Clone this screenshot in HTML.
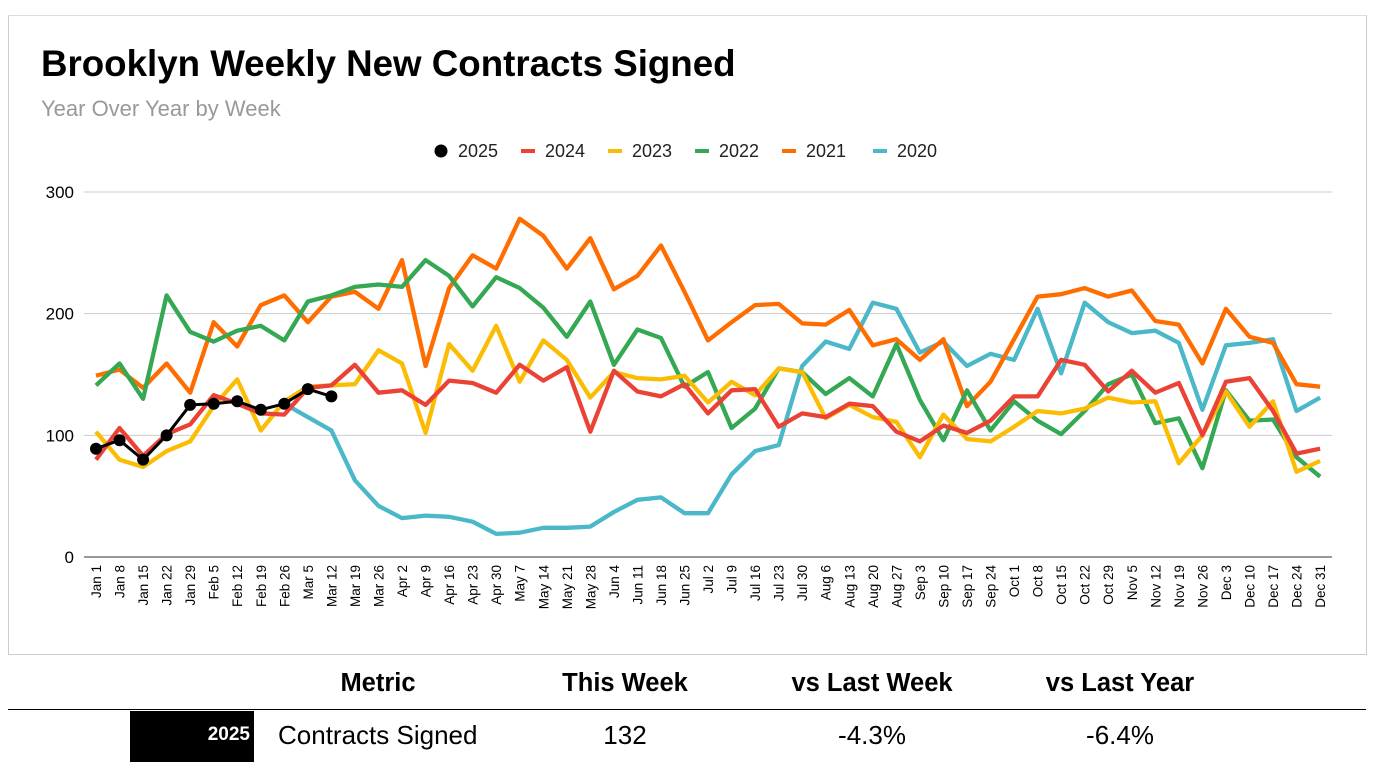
<!DOCTYPE html>
<html><head><meta charset="utf-8"><style>
body{margin:0;width:1376px;height:770px;background:#fff;font-family:"Liberation Sans",Arial,sans-serif;overflow:hidden;position:relative}
.card{position:absolute;left:8px;top:15px;width:1357px;height:638px;border:1px solid #ccc;border-top:1px solid #ddd}
.t{position:absolute;white-space:nowrap}
</style></head><body>
<div class="card"></div>
<div class="t" style="left:41px;top:43px;font-size:36.7px;font-weight:bold;color:#000">Brooklyn Weekly New Contracts Signed</div>
<div class="t" style="left:41px;top:96px;font-size:22px;color:#999">Year Over Year by Week</div>
<svg id="s" width="1376" height="660" style="position:absolute;left:0;top:0" font-family="Liberation Sans, Arial, sans-serif"></svg>
<div class="t" style="left:0;top:669px;width:1376px;font-size:25.5px;font-weight:bold">
<span class="t" style="left:378px;transform:translateX(-50%)">Metric</span>
<span class="t" style="left:625px;transform:translateX(-50%)">This Week</span>
<span class="t" style="left:872px;transform:translateX(-50%)">vs Last Week</span>
<span class="t" style="left:1120px;transform:translateX(-50%)">vs Last Year</span>
</div>
<div style="position:absolute;left:8px;top:709px;width:1358px;height:1px;background:#000"></div>
<div style="position:absolute;left:130px;top:711px;width:124px;height:51px;background:#000"></div>
<div class="t" style="left:130px;top:724px;width:120px;text-align:right;color:#fff;font-weight:bold;font-size:19px">2025</div>
<div class="t" style="left:278px;top:720px;font-size:26px">Contracts Signed</div>
<div class="t" style="left:625px;top:720px;font-size:26px;transform:translateX(-50%)">132</div>
<div class="t" style="left:872px;top:720px;font-size:26px;transform:translateX(-50%)">-4.3%</div>
<div class="t" style="left:1120px;top:720px;font-size:26px;transform:translateX(-50%)">-6.4%</div>
<script>
var s=document.getElementById('s'),h='';
function X(i){return 96+i*23.54}function Y(v){return 557-v*1.2167}
[0,100,200,300].forEach(function(v){var y=Y(v);h+='<line x1="84" x2="1332" y1="'+y+'" y2="'+y+'" stroke="'+(v?'#ccc':'#333')+'" stroke-width="1"/>';h+='<text x="74" y="'+(y+6)+'" text-anchor="end" font-size="17" fill="#000">'+v+'</text>';});
var m=['Jan','Feb','Mar','Apr','May','Jun','Jul','Aug','Sep','Oct','Nov','Dec'],md=[31,28,31,30,31,30,31,31,30,31,30,31],mo=0,d=1;
for(var i=0;i<53;i++){var lab=m[mo]+' '+d;h+='<text transform="translate('+(X(i)+5)+',565) rotate(-90)" text-anchor="end" font-size="13.5" fill="#000">'+lab+'</text>';d+=7;if(d>md[mo]){d-=md[mo];mo++;}}
var S={
'#4ab8c8':[null,null,null,null,null,null,null,null,126,115,104,63,42,32,34,33,29,19,20,24,24,25,37,47,49,36,36,68,87,92,157,177,171,209,204,168,177,157,167,162,204,151,209,193,184,186,176,121,174,176,179,120,131],
'#ff6d01':[149,154,139,159,135,193,173,207,215,193,214,218,204,244,157,221,248,237,278,264,237,262,220,231,256,218,178,193,207,208,192,191,203,174,179,162,179,124,144,179,214,216,221,214,219,194,191,159,204,181,176,142,140],
'#34a853':[141,159,130,215,185,177,186,190,178,210,215,222,224,222,244,231,206,230,221,205,181,210,158,187,180,140,152,106,122,155,152,134,147,132,175,129,96,137,104,128,112,101,120,142,150,110,114,73,137,112,113,82,66],
'#fbbc04':[103,80,74,87,95,124,146,104,128,140,141,142,170,159,102,175,153,190,144,178,162,131,152,147,146,149,127,144,133,155,152,114,125,115,111,82,117,97,95,107,120,118,122,131,127,128,77,100,136,107,128,70,79],
'#ea4335':[80,106,83,101,109,133,126,118,117,139,141,158,135,137,125,145,143,135,158,145,156,103,153,136,132,142,118,137,138,107,118,115,126,124,103,95,108,102,112,132,132,162,158,136,153,135,143,100,144,147,120,85,89],
'#000':[89,96,80,100,125,126,128,121,126,138,132]};
for(var c in S){var p=[];S[c].forEach(function(v,i){if(v!=null)p.push(X(i).toFixed(1)+','+Y(v).toFixed(1))});h+='<polyline points="'+p.join(' ')+'" fill="none" stroke="'+c+'" stroke-width="'+(c=='#000'?3:4.3)+'" stroke-linejoin="round"/>';if(c=='#000')S[c].forEach(function(v,i){h+='<circle cx="'+X(i)+'" cy="'+Y(v)+'" r="6" fill="#000"/>'});}
var L=[['2025','#000',1],['2024','#ea4335'],['2023','#fbbc04'],['2022','#34a853'],['2021','#ff6d01'],['2020','#4ab8c8']],lx=[441,528,615,702,789,880];
L.forEach(function(l,i){var x=lx[i];h+=l[2]?'<circle cx="'+x+'" cy="151" r="6.5" fill="#000"/>':'<line x1="'+(x-7)+'" x2="'+(x+7)+'" y1="151" y2="151" stroke="'+l[1]+'" stroke-width="4"/>';h+='<text x="'+(x+17)+'" y="157" font-size="18" fill="#222">'+l[0]+'</text>';});
s.innerHTML=h;
</script>
</body></html>
